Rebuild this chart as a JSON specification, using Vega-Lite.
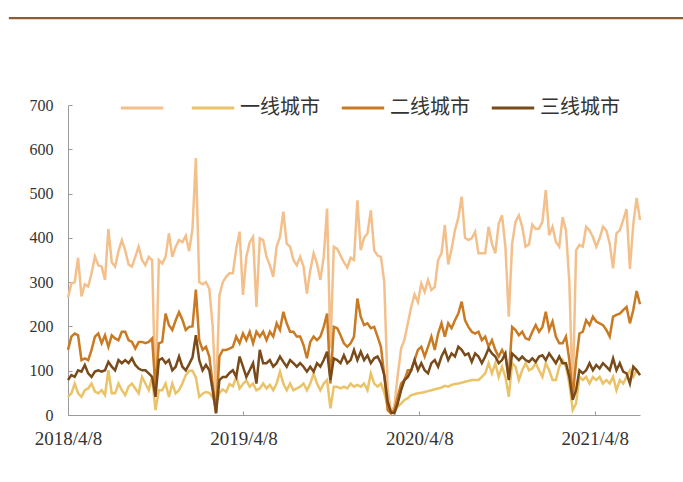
{
"$schema": "https://vega.github.io/schema/vega-lite/v6.json",
"width": 572, "height": 310,
"autosize": {"type": "none"},
"padding": {"left": 68, "top": 105, "right": 43, "bottom": 67},
"background": "white",
"config": {"view": {"stroke": null}},
"data": {"values": [
{"d":"2018-04-08","T":265,"一线城市":41,"二线城市":147,"三线城市":79},
{"d":"2018-04-15","T":297,"一线城市":49,"二线城市":177,"三线城市":90},
{"d":"2018-04-22","T":300,"一线城市":71,"二线城市":184,"三线城市":86},
{"d":"2018-04-29","T":355,"一线城市":49,"二线城市":180,"三线城市":101},
{"d":"2018-05-06","T":268,"一线城市":41,"二线城市":124,"三线城市":98},
{"d":"2018-05-13","T":295,"一线城市":56,"二线城市":128,"三线城市":113},
{"d":"2018-05-20","T":290,"一线城市":60,"二线城市":124,"三线城市":94},
{"d":"2018-05-27","T":320,"一线城市":71,"二线城市":147,"三线城市":86},
{"d":"2018-06-03","T":358,"一线城市":53,"二线城市":177,"三线城市":98},
{"d":"2018-06-10","T":338,"一线城市":49,"二线城市":184,"三线城市":101},
{"d":"2018-06-17","T":335,"一线城市":56,"二线城市":162,"三线城市":98},
{"d":"2018-06-24","T":305,"一线城市":45,"二线城市":180,"三线城市":101},
{"d":"2018-07-01","T":420,"一线城市":101,"二线城市":154,"三线城市":120},
{"d":"2018-07-08","T":345,"一线城市":49,"二线城市":180,"三线城市":109},
{"d":"2018-07-15","T":335,"一线城市":49,"二线城市":173,"三线城市":101},
{"d":"2018-07-22","T":370,"一线城市":71,"二线城市":169,"三线城市":124},
{"d":"2018-07-29","T":395,"一线城市":56,"二线城市":188,"三线城市":117},
{"d":"2018-08-05","T":372,"一线城市":45,"二线城市":188,"三线城市":124},
{"d":"2018-08-12","T":340,"一线城市":64,"二线城市":169,"三线城市":117},
{"d":"2018-08-19","T":335,"一线城市":71,"二线城市":165,"三线城市":128},
{"d":"2018-08-26","T":357,"一线城市":60,"二线城市":150,"三线城市":113},
{"d":"2018-09-02","T":380,"一线城市":49,"二线城市":165,"三线城市":105},
{"d":"2018-09-09","T":350,"一线城市":86,"二线城市":165,"三线城市":101},
{"d":"2018-09-16","T":338,"一线城市":71,"二线城市":162,"三线城市":101},
{"d":"2018-09-23","T":357,"一线城市":56,"二线城市":165,"三线城市":94},
{"d":"2018-09-30","T":350,"一线城市":86,"二线城市":173,"三线城市":86},
{"d":"2018-10-07","T":40,"一线城市":11,"二线城市":60,"三线城市":41},
{"d":"2018-10-14","T":350,"一线城市":56,"二线城市":162,"三线城市":124},
{"d":"2018-10-21","T":342,"一线城市":56,"二线城市":165,"三线城市":128},
{"d":"2018-10-28","T":357,"一线城市":71,"二线城市":229,"三线城市":117},
{"d":"2018-11-04","T":410,"一线城市":41,"二线城市":203,"三线城市":124},
{"d":"2018-11-11","T":357,"一线城市":71,"二线城市":192,"三线城市":101},
{"d":"2018-11-18","T":380,"一线城市":49,"二线城市":214,"三线城市":109},
{"d":"2018-11-25","T":395,"一线城市":56,"二线城市":232,"三线城市":132},
{"d":"2018-12-02","T":390,"一线城市":71,"二线城市":215,"三线城市":109},
{"d":"2018-12-09","T":405,"一线城市":90,"二线城市":192,"三线城市":101},
{"d":"2018-12-16","T":370,"一线城市":100,"二线城市":199,"三线城市":115},
{"d":"2018-12-23","T":420,"一线城市":100,"二线城市":200,"三线城市":130},
{"d":"2018-12-30","T":580,"一线城市":85,"二线城市":283,"三线城市":180},
{"d":"2019-01-06","T":300,"一线城市":41,"二线城市":169,"三线城市":124},
{"d":"2019-01-13","T":295,"一线城市":48,"二线城市":147,"三线城市":101},
{"d":"2019-01-20","T":300,"一线城市":52,"二线城市":154,"三线城市":113},
{"d":"2019-01-27","T":285,"一线城市":50,"二线城市":132,"三线城市":101},
{"d":"2019-02-03","T":200,"一线城市":40,"二线城市":71,"三线城市":56},
{"d":"2019-02-10","T":40,"一线城市":26,"二线城市":4,"三线城市":4},
{"d":"2019-02-17","T":270,"一线城市":50,"二线城市":132,"三线城市":79},
{"d":"2019-02-24","T":300,"一线城市":58,"二线城市":147,"三线城市":86},
{"d":"2019-03-03","T":312,"一线城市":52,"二线城市":147,"三线城市":86},
{"d":"2019-03-10","T":320,"一线城市":70,"二线城市":150,"三线城市":95},
{"d":"2019-03-17","T":320,"一线城市":65,"二线城市":154,"三线城市":101},
{"d":"2019-03-24","T":375,"一线城市":86,"二线城市":177,"三线城市":86},
{"d":"2019-03-31","T":414,"一线城市":60,"二线城市":162,"三线城市":132},
{"d":"2019-04-07","T":271,"一线城市":70,"二线城市":184,"三线城市":109},
{"d":"2019-04-14","T":357,"一线城市":78,"二线城市":169,"三线城市":86},
{"d":"2019-04-21","T":390,"一线城市":64,"二线城市":188,"三线城市":101},
{"d":"2019-04-28","T":402,"一线城市":71,"二线城市":162,"三线城市":117},
{"d":"2019-05-05","T":244,"一线城市":56,"二线城市":188,"三线城市":71},
{"d":"2019-05-12","T":399,"一线城市":60,"二线城市":177,"三线城市":147},
{"d":"2019-05-19","T":395,"一线城市":71,"二线城市":188,"三线城市":117},
{"d":"2019-05-26","T":357,"一线城市":60,"二线城市":169,"三线城市":117},
{"d":"2019-06-02","T":338,"一线城市":68,"二线城市":188,"三线城市":124},
{"d":"2019-06-09","T":312,"一线城市":56,"二线城市":177,"三线城市":109},
{"d":"2019-06-16","T":380,"一线城市":71,"二线城市":207,"三线城市":117},
{"d":"2019-06-23","T":402,"一线城市":98,"二线城市":192,"三线城市":132},
{"d":"2019-06-30","T":459,"一线城市":71,"二线城市":233,"三线城市":120},
{"d":"2019-07-07","T":387,"一线城市":56,"二线城市":207,"三线城市":109},
{"d":"2019-07-14","T":380,"一线城市":71,"二线城市":188,"三线城市":124},
{"d":"2019-07-21","T":350,"一线城市":56,"二线城市":188,"三线城市":117},
{"d":"2019-07-28","T":338,"一线城市":60,"二线城市":177,"三线城市":109},
{"d":"2019-08-04","T":357,"一线城市":64,"二线城市":177,"三线城市":117},
{"d":"2019-08-11","T":335,"一线城市":71,"二线城市":158,"三线城市":109},
{"d":"2019-08-18","T":274,"一线城市":56,"二线城市":128,"三线城市":98},
{"d":"2019-08-25","T":327,"一线城市":71,"二线城市":165,"三线城市":109},
{"d":"2019-09-01","T":365,"一线城市":94,"二线城市":177,"三线城市":98},
{"d":"2019-09-08","T":342,"一线城市":71,"二线城市":169,"三线城市":117},
{"d":"2019-09-15","T":305,"一线城市":56,"二线城市":177,"三线城市":109},
{"d":"2019-09-22","T":357,"一线城市":71,"二线城市":199,"三线城市":124},
{"d":"2019-09-29","T":466,"一线城市":79,"二线城市":229,"三线城市":143},
{"d":"2019-10-06","T":150,"一线城市":15,"二线城市":71,"三线城市":79},
{"d":"2019-10-13","T":380,"一线城市":64,"二线城市":199,"三线城市":128},
{"d":"2019-10-20","T":375,"一线城市":64,"二线城市":196,"三线城市":124},
{"d":"2019-10-27","T":360,"一线城市":60,"二线城市":180,"三线城市":117},
{"d":"2019-11-03","T":345,"一线城市":64,"二线城市":162,"三线城市":135},
{"d":"2019-11-10","T":333,"一线城市":60,"二线城市":154,"三线城市":117},
{"d":"2019-11-17","T":355,"一线城市":71,"二线城市":162,"三线城市":124},
{"d":"2019-11-24","T":350,"一线城市":64,"二线城市":177,"三线城市":147},
{"d":"2019-12-01","T":485,"一线城市":68,"二线城市":263,"三线城市":124},
{"d":"2019-12-08","T":372,"一线城市":64,"二线城市":222,"三线城市":143},
{"d":"2019-12-15","T":400,"一线城市":71,"二线城市":203,"三线城市":124},
{"d":"2019-12-22","T":410,"一线城市":56,"二线城市":207,"三线城市":135},
{"d":"2019-12-29","T":462,"一线城市":94,"二线城市":196,"三线城市":117},
{"d":"2020-01-05","T":372,"一线城市":71,"二线城市":199,"三线城市":128},
{"d":"2020-01-12","T":360,"一线城市":64,"二线城市":177,"三线城市":132},
{"d":"2020-01-19","T":357,"一线城市":71,"二线城市":154,"三线城市":117},
{"d":"2020-01-26","T":300,"一线城市":50,"二线城市":90,"三线城市":90},
{"d":"2020-02-02","T":60,"一线城市":20,"二线城市":11,"三线城市":30},
{"d":"2020-02-09","T":5,"一线城市":4,"二线城市":4,"三线城市":6},
{"d":"2020-02-16","T":20,"一线城市":8,"二线城市":11,"三线城市":4},
{"d":"2020-02-23","T":90,"一线城市":19,"二线城市":41,"三线城市":26},
{"d":"2020-03-01","T":150,"一线城市":26,"二线城市":71,"三线城市":56},
{"d":"2020-03-08","T":170,"一线城市":34,"二线城市":79,"三线城市":79},
{"d":"2020-03-15","T":207,"一线城市":38,"二线城市":101,"三线城市":86},
{"d":"2020-03-22","T":244,"一线城市":45,"二线城市":101,"三线城市":101},
{"d":"2020-03-29","T":272,"一线城市":47,"二线城市":124,"三线城市":124},
{"d":"2020-04-05","T":255,"一线城市":49,"二线城市":147,"三线城市":101},
{"d":"2020-04-12","T":297,"一线城市":50,"二线城市":154,"三线城市":117},
{"d":"2020-04-19","T":278,"一线城市":52,"二线城市":132,"三线城市":101},
{"d":"2020-04-26","T":305,"一线城市":54,"二线城市":154,"三线城市":94},
{"d":"2020-05-03","T":282,"一线城市":56,"二线城市":177,"三线城市":117},
{"d":"2020-05-10","T":289,"一线城市":58,"二线城市":147,"三线城市":124},
{"d":"2020-05-17","T":350,"一线城市":60,"二线城市":184,"三线城市":109},
{"d":"2020-05-24","T":365,"一线城市":62,"二线城市":207,"三线城市":132},
{"d":"2020-05-31","T":429,"一线城市":66,"二线城市":177,"三线城市":147},
{"d":"2020-06-07","T":340,"一线城市":64,"二线城市":207,"三线城市":124},
{"d":"2020-06-14","T":375,"一线城市":68,"二线城市":196,"三线城市":139},
{"d":"2020-06-21","T":417,"一线城市":70,"二线城市":214,"三线城市":132},
{"d":"2020-06-28","T":445,"一线城市":71,"二线城市":229,"三线城市":154},
{"d":"2020-07-05","T":493,"一线城市":73,"二线城市":256,"三线城市":147},
{"d":"2020-07-12","T":400,"一线城市":75,"二线城市":214,"三线城市":135},
{"d":"2020-07-19","T":395,"一线城市":77,"二线城市":199,"三线城市":139},
{"d":"2020-07-26","T":399,"一线城市":79,"二线城市":188,"三线城市":120},
{"d":"2020-08-02","T":414,"一线城市":79,"二线城市":184,"三线城市":139},
{"d":"2020-08-09","T":365,"一线城市":79,"二线城市":188,"三线城市":132},
{"d":"2020-08-16","T":365,"一线城市":86,"二线城市":169,"三线城市":117},
{"d":"2020-08-23","T":365,"一线城市":94,"二线城市":177,"三线城市":132},
{"d":"2020-08-30","T":425,"一线城市":117,"二线城市":154,"三线城市":150},
{"d":"2020-09-06","T":387,"一线城市":94,"二线城市":169,"三线城市":139},
{"d":"2020-09-13","T":365,"一线城市":117,"二线城市":147,"三线城市":132},
{"d":"2020-09-20","T":432,"一线城市":86,"二线城市":132,"三线城市":117},
{"d":"2020-09-27","T":451,"一线城市":109,"二线城市":147,"三线城市":124},
{"d":"2020-10-04","T":380,"一线城市":86,"二线城市":132,"三线城市":139},
{"d":"2020-10-11","T":222,"一线城市":41,"二线城市":86,"三线城市":79},
{"d":"2020-10-18","T":387,"一线城市":117,"二线城市":199,"三线城市":139},
{"d":"2020-10-25","T":436,"一线城市":109,"二线城市":192,"三线城市":132},
{"d":"2020-11-01","T":451,"一线城市":79,"二线城市":180,"三线城市":124},
{"d":"2020-11-08","T":425,"一线城市":101,"二线城市":188,"三线城市":132},
{"d":"2020-11-15","T":380,"一线城市":117,"二线城市":173,"三线城市":124},
{"d":"2020-11-22","T":385,"一线城市":101,"二线城市":170,"三线城市":120},
{"d":"2020-11-29","T":430,"一线城市":105,"二线城市":188,"三线城市":128},
{"d":"2020-12-06","T":420,"一线城市":117,"二线城市":203,"三线城市":120},
{"d":"2020-12-13","T":421,"一线城市":101,"二线城市":188,"三线城市":132},
{"d":"2020-12-20","T":436,"一线城市":86,"二线城市":199,"三线城市":135},
{"d":"2020-12-27","T":508,"一线城市":117,"二线城市":233,"三线城市":124},
{"d":"2021-01-03","T":406,"一线城市":101,"二线城市":192,"三线城市":139},
{"d":"2021-01-10","T":425,"一线城市":79,"二线城市":211,"三线城市":128},
{"d":"2021-01-17","T":391,"一线城市":79,"二线城市":177,"三线城市":117},
{"d":"2021-01-24","T":380,"一线城市":109,"二线城市":162,"三线城市":132},
{"d":"2021-01-31","T":447,"一线城市":124,"二线城市":162,"三线城市":117},
{"d":"2021-02-07","T":417,"一线城市":109,"二线城市":177,"三线城市":117},
{"d":"2021-02-14","T":300,"一线城市":71,"二线城市":124,"三线城市":86},
{"d":"2021-02-21","T":40,"一线城市":11,"二线城市":41,"三线城市":34},
{"d":"2021-02-28","T":372,"一线城市":26,"二线城市":120,"三线城市":56},
{"d":"2021-03-07","T":384,"一线城市":86,"二线城市":184,"三线城市":101},
{"d":"2021-03-14","T":380,"一线城市":79,"二线城市":188,"三线城市":94},
{"d":"2021-03-21","T":425,"一线城市":86,"二线城市":214,"三线城市":101},
{"d":"2021-03-28","T":417,"一线城市":71,"二线城市":203,"三线城市":117},
{"d":"2021-04-04","T":402,"一线城市":86,"二线城市":222,"三线城市":101},
{"d":"2021-04-11","T":380,"一线城市":79,"二线城市":211,"三线城市":113},
{"d":"2021-04-18","T":399,"一线城市":86,"二线城市":207,"三线城市":105},
{"d":"2021-04-25","T":425,"一线城市":71,"二线城市":203,"三线城市":117},
{"d":"2021-05-02","T":417,"一线城市":79,"二线城市":192,"三线城市":109},
{"d":"2021-05-09","T":387,"一线城市":71,"二线城市":177,"三线城市":101},
{"d":"2021-05-16","T":331,"一线城市":86,"二线城市":222,"三线城市":128},
{"d":"2021-05-23","T":410,"一线城市":56,"二线城市":226,"三线城市":101},
{"d":"2021-05-30","T":417,"一线城市":79,"二线城市":229,"三线城市":117},
{"d":"2021-06-06","T":440,"一线城市":71,"二线城市":237,"三线城市":98},
{"d":"2021-06-13","T":465,"一线城市":86,"二线城市":244,"三线城市":94},
{"d":"2021-06-20","T":330,"一线城市":101,"二线城市":207,"三线城市":71},
{"d":"2021-06-27","T":430,"一线城市":86,"二线城市":237,"三线城市":109},
{"d":"2021-07-04","T":490,"一线城市":101,"二线城市":280,"三线城市":101},
{"d":"2021-07-11","T":440,"一线城市":90,"二线城市":250,"三线城市":90}
]},
"layer": [
{
"data": {"values": [{"a": 1}]},
"mark": {"type": "rule", "color": "#8E5B36", "strokeWidth": 2.2, "clip": false},
"encoding": {
"x": {"datum": {"year": 2017, "month": 12, "date": 6, "utc": true}, "type": "temporal",
"scale": {"type": "utc", "domain": [{"year": 2018, "month": 4, "date": 8, "utc": true}, {"year": 2021, "month": 7, "date": 11, "utc": true}]}},
"x2": {"datum": {"year": 2021, "month": 10, "date": 14, "utc": true}},
"y": {"datum": 896, "type": "quantitative", "scale": {"domain": [0, 700], "nice": false}}
}
},
{
"transform": [{"fold": ["T", "一线城市", "二线城市", "三线城市"], "as": ["k", "v"]}],
"mark": {"type": "line", "strokeWidth": 2.5},
"encoding": {
"x": {"field": "d", "type": "temporal",
"scale": {"type": "utc", "domain": [{"year": 2018, "month": 4, "date": 8, "utc": true}, {"year": 2021, "month": 7, "date": 11, "utc": true}]},
"axis": {"values": [{"year": 2018, "month": 4, "date": 8, "utc": true}, {"year": 2019, "month": 4, "date": 8, "utc": true}, {"year": 2020, "month": 4, "date": 8, "utc": true}, {"year": 2021, "month": 4, "date": 8, "utc": true}],
"format": "%Y/%-m/%-d", "title": null, "grid": false, "labelFont": "Liberation Serif", "labelFontSize": 19, "labelColor": "#333333",
"domainColor": "#9a9a9a", "tickColor": "#9a9a9a", "tickSize": -4, "labelPadding": 18, "labelOverlap": false, "labelFlush": false}},
"y": {"field": "v", "type": "quantitative",
"scale": {"domain": [0, 700], "nice": false},
"axis": {"values": [0, 100, 200, 300, 400, 500, 600, 700], "title": null, "grid": false, "labelFont": "Liberation Serif", "labelFontSize": 16, "labelColor": "#333333",
"domainColor": "#9a9a9a", "tickColor": "#9a9a9a", "tickSize": -4, "labelPadding": 19}},
"color": {"field": "k", "type": "nominal",
"scale": {"domain": ["T", "一线城市", "二线城市", "三线城市"], "range": ["#F3C08C", "#EAC368", "#C97A22", "#7A4B1A"]},
"legend": {"title": null, "orient": "none", "legendX": 51, "legendY": -20, "direction": "horizontal",
"symbolType": "stroke", "symbolSize": 1800, "symbolStrokeWidth": 3, "labelFont": "Noto Sans CJK SC", "labelFontSize": 20, "labelColor": "#333333",
"columnPadding": 15, "labelOffset": 4, "labelExpr": "datum.label == 'T' ? '' : datum.label"}}
}
}
]
}
